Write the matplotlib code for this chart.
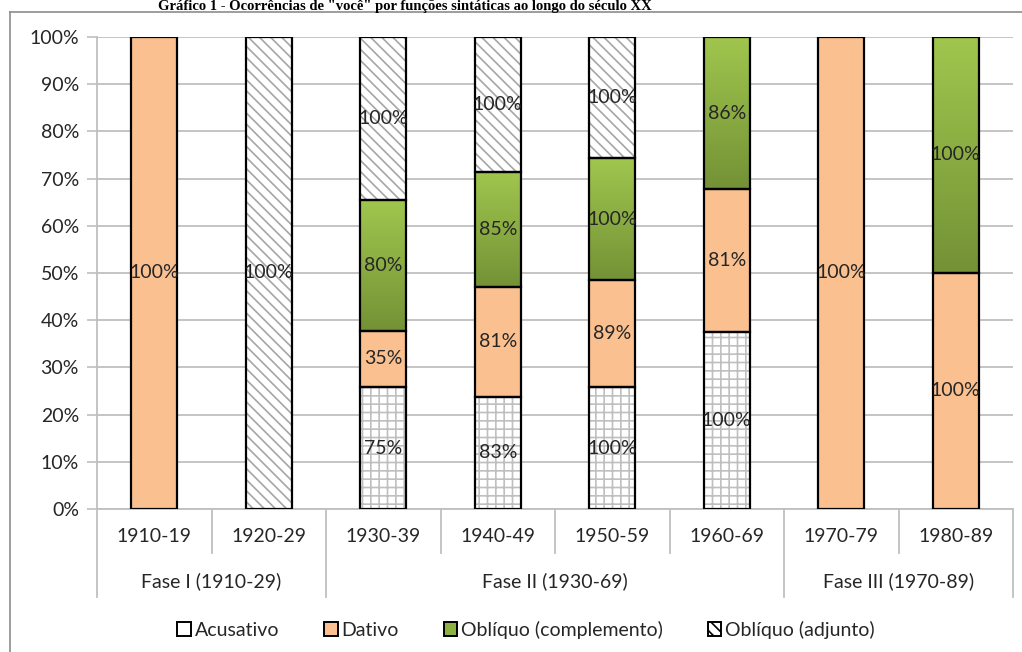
import numpy as np
import matplotlib
matplotlib.use("Agg")
import matplotlib.pyplot as plt
from matplotlib.patches import Patch
from matplotlib.lines import Line2D

# ---------------- data ----------------
categories = ["1910-19", "1920-29", "1930-39", "1940-49", "1950-59", "1960-69", "1970-79", "1980-89"]
groups = ["Fase I (1910-29)", "Fase II (1930-69)", "Fase III (1970-89)"]
group_spans = [(0, 2), (2, 6), (6, 8)]
series_names = ["Acusativo", "Dativo", "Oblíquo (complemento)", "Oblíquo (adjunto)"]

acusativo = [0, 0, 25.8, 23.8, 25.8, 37.4, 0, 0]
dativo = [100, 0, 12.0, 23.3, 22.7, 30.3, 100, 50]
complemento = [0, 0, 27.6, 24.4, 25.8, 32.3, 0, 50]
adjunto = [0, 100, 34.6, 28.5, 25.7, 0, 0, 0]

lab_acusativo = ["", "", "75%", "83%", "100%", "100%", "", ""]
lab_dativo = ["100%", "", "35%", "81%", "89%", "81%", "100%", "100%"]
lab_complemento = ["", "", "80%", "85%", "100%", "86%", "", "100%"]
lab_adjunto = ["", "100%", "100%", "100%", "100%", "", "", ""]

yticks = [0, 10, 20, 30, 40, 50, 60, 70, 80, 90, 100]
title = "Gráfico 1 - Ocorrências de \"você\" por funções sintáticas ao longo do século XX"

# ---------------- style ----------------
W, H = 1022, 652
FONT = ["Lato", "DejaVu Sans"]
TXT = "#262626"
GRID = "#BFBFBF"
HATCH = "#A6A6A6"
DATIVO_C = "#FAC090"
GREEN_TOP = np.array([160, 198, 78]) / 255
GREEN_BOT = np.array([116, 146, 54]) / 255
plt.rcParams["hatch.linewidth"] = 1.2

fig = plt.figure(figsize=(W / 100, H / 100), dpi=100, facecolor="white")
ax_l, ax_r, ax_t, ax_b = 97, 1013, 37, 509
ax = fig.add_axes([ax_l / W, 1 - ax_b / H, (ax_r - ax_l) / W, (ax_b - ax_t) / H])

x = np.arange(len(categories)) + 0.5
bw = 0.40
fs = 14

series = [acusativo, dativo, complemento, adjunto]
labels = [lab_acusativo, lab_dativo, lab_complemento, lab_adjunto]
bottom = np.zeros(len(categories))

grad = np.linspace(0, 1, 64)[:, None, None]
grad_img = GREEN_TOP[None, None, :] * (1 - grad) + GREEN_BOT[None, None, :] * grad

for si, vals in enumerate(series):
    vals = np.array(vals, dtype=float)
    for i, v in enumerate(vals):
        if v <= 0:
            continue
        b = bottom[i]
        if si == 0:
            ax.bar(x[i], v, bw, bottom=b, color="white", edgecolor=GRID, hatch="++", linewidth=0, zorder=2)
        elif si == 1:
            ax.bar(x[i], v, bw, bottom=b, color=DATIVO_C, linewidth=0, zorder=2)
        elif si == 2:
            ax.imshow(grad_img, extent=[x[i] - bw / 2, x[i] + bw / 2, b, b + v], aspect="auto", zorder=2, interpolation="bilinear")
        else:
            ax.bar(x[i], v, bw, bottom=b, color="white", edgecolor=HATCH, hatch="\\\\\\", linewidth=0, zorder=2)
        ax.bar(x[i], v, bw, bottom=b, facecolor="none", edgecolor="black", linewidth=1.6, zorder=3)
        if labels[si][i]:
            ax.text(x[i], b + v / 2, labels[si][i], ha="center", va="center", fontsize=fs, color=TXT, family=FONT, zorder=4)
    bottom += vals

ax.set_xlim(0, len(categories))
ax.set_ylim(0, 100)
ax.set_yticks(yticks)
ax.set_yticklabels([f"{t}%" for t in yticks], fontsize=fs, color=TXT, family=FONT)
ax.set_xticks([])
ax.tick_params(axis="y", length=7, width=1.2, color=GRID, pad=6)
ax.yaxis.grid(True, color=GRID, linewidth=1.3, zorder=0)
ax.set_axisbelow(True)
for s in ["top", "right"]:
    ax.spines[s].set_visible(False)
for s in ["left", "bottom"]:
    ax.spines[s].set_color(GRID)
    ax.spines[s].set_linewidth(1.3)

# category axis (multi-level)
ph = ax_b - ax_t
tr = ax.get_xaxis_transform()
y_lab1 = -(537 - ax_b) / ph
y_lab2 = -(581 - ax_b) / ph
y_sep1 = -(553 - ax_b) / ph
y_sep2 = -(597 - ax_b) / ph
for i, c in enumerate(categories):
    ax.text(x[i], y_lab1, c, transform=tr, ha="center", va="center", fontsize=fs, color=TXT, family=FONT)
group_edges = set()
for (a, b_), g in zip(group_spans, groups):
    ax.text((a + b_) / 2, y_lab2, g, transform=tr, ha="center", va="center", fontsize=fs, color=TXT, family=FONT)
    group_edges.update([a, b_])
for k in range(len(categories) + 1):
    y_end = y_sep2 if k in group_edges else y_sep1
    ax.add_line(Line2D([k, k], [0, y_end], transform=tr, color=GRID, linewidth=1.3, clip_on=False))

# legend
handles = [
    Patch(facecolor="white", edgecolor="black", linewidth=1.4),
    Patch(facecolor=DATIVO_C, edgecolor="black", linewidth=1.4),
    Patch(facecolor=GREEN_BOT * 0.4 + GREEN_TOP * 0.6, edgecolor="black", linewidth=1.4),
    Patch(facecolor="white", edgecolor="black", hatch="\\\\\\", linewidth=1.4),
]
fig.legend(handles, series_names, loc="center", bbox_to_anchor=(526 / W, 1 - 630 / H), ncol=4,
           frameon=False, handlelength=0.7, handleheight=0.7, handletextpad=0.2, columnspacing=2.3,
           prop={"family": FONT, "size": fs}, labelcolor=TXT)

# chart frame (partially visible)
fig.add_artist(Line2D([10 / W, 10 / W], [0, 1 - 12 / H], transform=fig.transFigure, color="#8C8C8C", linewidth=1.2))
fig.add_artist(Line2D([10 / W, 1.0], [1 - 12 / H, 1 - 12 / H], transform=fig.transFigure, color="#8C8C8C", linewidth=1.2))

# title
fig.text(405 / W, 1 - 10 / H, title, ha="center", va="baseline", fontsize=10.5, fontweight="bold",
         family=["Liberation Serif", "DejaVu Serif"], color="black")

fig.savefig("out.png", dpi=100, facecolor="white")
